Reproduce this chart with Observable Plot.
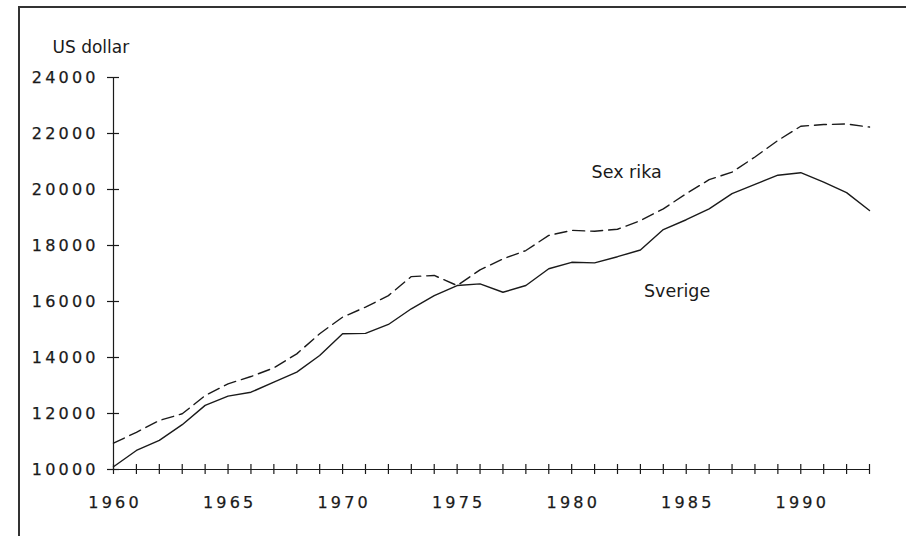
<!DOCTYPE html>
<html>
<head>
<meta charset="utf-8">
<script src="https://cdn.jsdelivr.net/npm/d3@7"></script>
<script src="https://cdn.jsdelivr.net/npm/@observablehq/plot@0.6"></script>
<style>
  html, body { margin: 0; padding: 0; background: #fff; overflow: hidden; }
  #chart { position: relative; width: 906px; height: 536px; overflow: hidden; }
  #chart svg { display: block; }
  #border { position: absolute; left: 18px; top: 6px; width: 1200px; height: 1200px;
            border-top: 2px solid #333; border-left: 2px solid #333; pointer-events: none; }
</style>
</head>
<body>
<div id="chart"><div id="border"></div></div>
<script>
const years = [1960,1961,1962,1963,1964,1965,1966,1967,1968,1969,1970,1971,1972,1973,1974,1975,1976,1977,1978,1979,1980,1981,1982,1983,1984,1985,1986,1987,1988,1989,1990,1991,1992,1993];
const sverige = [10100,10680,11040,11600,12290,12620,12760,13120,13480,14070,14850,14860,15180,15740,16210,16570,16630,16330,16570,17170,17400,17380,17600,17840,18570,18920,19310,19850,20180,20510,20600,20260,19890,19250];
const sexRika = [10940,11330,11750,11990,12640,13060,13320,13630,14130,14850,15440,15800,16210,16890,16930,16570,17130,17520,17820,18360,18540,18510,18580,18890,19310,19850,20350,20620,21160,21750,22260,22320,22340,22230];
const yTicks = [10000,12000,14000,16000,18000,20000,22000,24000];
const xLabelTicks = [1960,1965,1970,1975,1980,1985,1990];
const seriesLabels = [
  {name: "Sex rika", year: 1982.4, value: 20600},
  {name: "Sverige", year: 1984.6, value: 16360}
];
const unitLabel = "US dollar";

const svData = years.map((y, i) => ({year: y, value: sverige[i]}));
const srData = years.map((y, i) => ({year: y, value: sexRika[i]}));

const ink = "#1a1a1a";
const font = "'DejaVu Sans', 'Liberation Sans', Arial, sans-serif";
const ls = 3.2;

const chart = Plot.plot({
  width: 906,
  height: 536,
  marginLeft: 113,
  marginRight: 37,
  marginTop: 77,
  marginBottom: 67,
  style: {fontFamily: font, color: ink, background: "#fff"},
  x: {domain: [1960, 1993]},
  y: {domain: [10000, 24000]},
  marks: [
    // axis lines
    Plot.ruleY([10000], {stroke: ink, strokeWidth: 1.2}),
    Plot.ruleX([1960], {stroke: ink, strokeWidth: 1.2}),
    // x ticks crossing the axis
    Plot.axisX({ticks: years, tickSize: 10, dy: -5, tickFormat: () => "", label: null, stroke: ink, strokeWidth: 1.2}),
    Plot.axisX({ticks: xLabelTicks, tickSize: 0, tickPadding: 27, dx: ls / 2, tickFormat: d => String(d), label: null, fill: ink}),
    // y ticks crossing the axis
    Plot.axisY({ticks: yTicks, tickSize: 12, dx: 6, tickFormat: () => "", label: null, stroke: ink, strokeWidth: 1.2}),
    Plot.axisY({ticks: yTicks, tickSize: 0, tickPadding: 18 - ls, tickFormat: d => String(d), label: null, fill: ink}),
    // series
    Plot.line(srData, {x: "year", y: "value", stroke: ink, strokeWidth: 1.4, strokeDasharray: "12,6"}),
    Plot.line(svData, {x: "year", y: "value", stroke: ink, strokeWidth: 1.4}),
    Plot.text(seriesLabels, {x: "year", y: "value", text: "name", fontSize: 17.5, fill: ink, fontFamily: font}),
    Plot.text([unitLabel], {frameAnchor: "top-left", dx: -61, dy: -37, textAnchor: "start", fontSize: 17, fill: ink, fontFamily: font})
  ]
});

chart.querySelectorAll("g[aria-label$='tick label'] text").forEach(t => {
  t.style.letterSpacing = ls + "px";
  t.style.fontSize = "16px";
  t.style.stroke = ink;
  t.style.strokeWidth = "0.25px";
});
chart.querySelectorAll("g[aria-label$='tick label']").forEach(g => g.setAttribute("font-size", "16"));
const host = document.getElementById("chart");
host.insertBefore(chart, host.firstChild);
</script>
</body>
</html>
